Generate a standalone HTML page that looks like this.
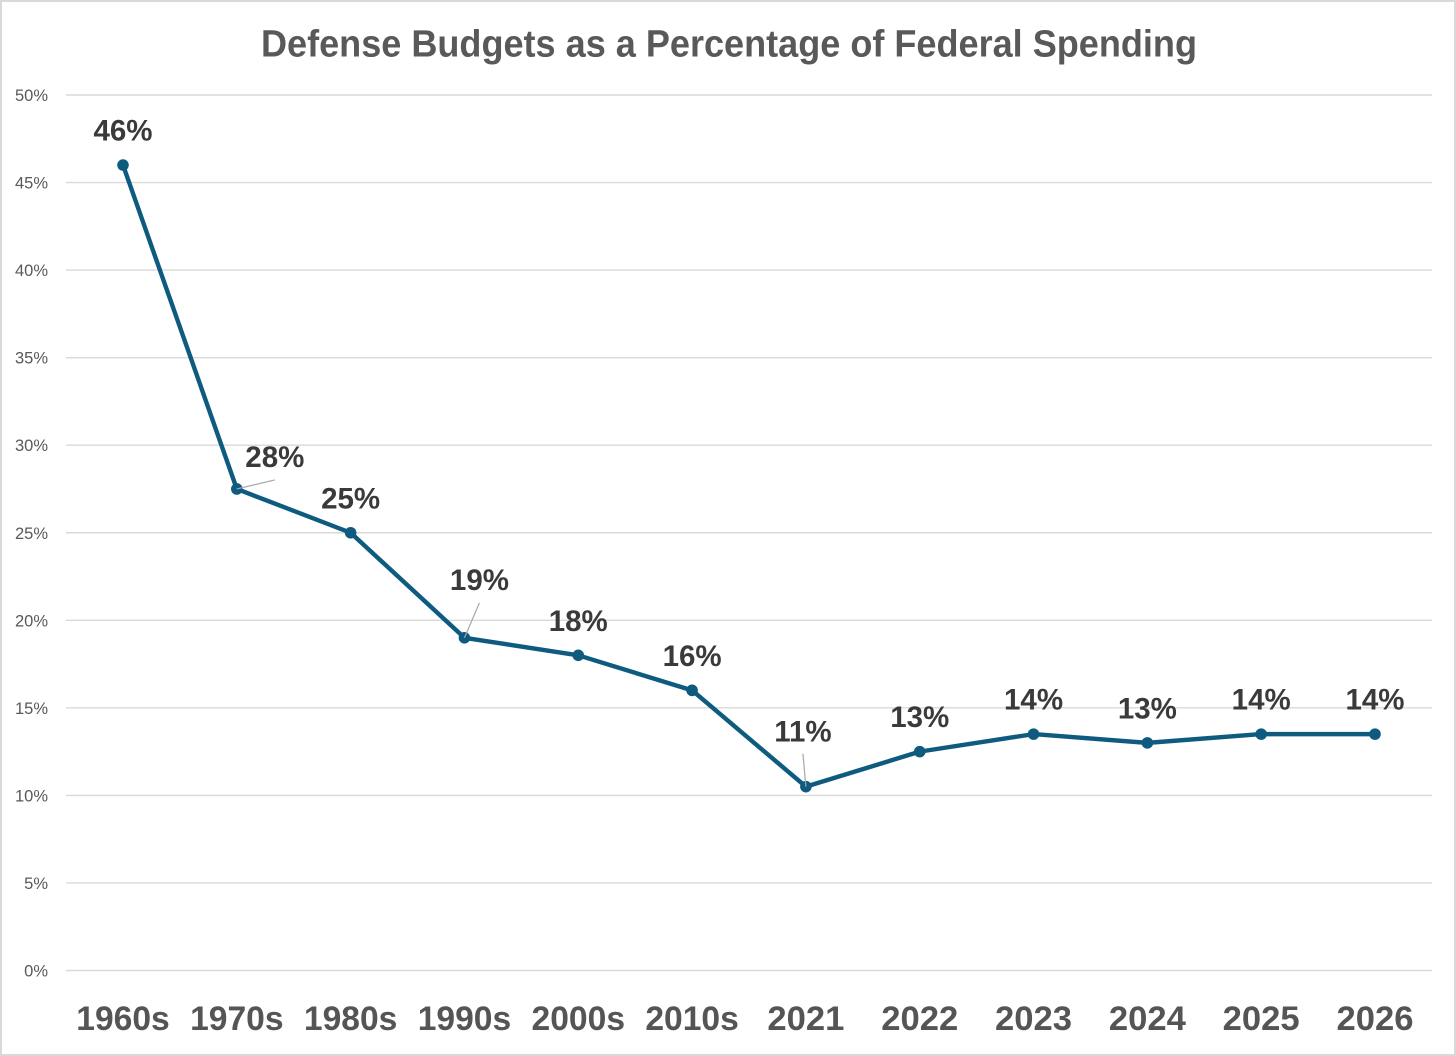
<!DOCTYPE html>
<html lang="en">
<head>
<meta charset="utf-8">
<title>Defense Budgets as a Percentage of Federal Spending</title>
<style>
html,body{margin:0;padding:0;background:#fff;width:1456px;height:1056px;overflow:hidden}
svg{display:block;font-family:"Liberation Sans",sans-serif}
</style>
</head>
<body>
<svg id="chart" width="1456" height="1056" viewBox="0 0 1456 1056" xmlns="http://www.w3.org/2000/svg">
  <rect x="1" y="1" width="1454" height="1054" fill="#fff" stroke="#d9d9d9" stroke-width="2"/>
  <text x="261" y="56.5" font-size="38" font-weight="700" fill="#595959" textLength="936" lengthAdjust="spacingAndGlyphs">Defense Budgets as a Percentage of Federal Spending</text>
  <g id="grid"></g>
  <g id="yticks"></g>
  <g id="xticks"></g>
  <g id="leaders"></g>
  <g id="series"></g>
  <g id="labels"></g>
</svg>
<script>
const categories = ["1960s","1970s","1980s","1990s","2000s","2010s","2021","2022","2023","2024","2025","2026"];
const defenseShare = [46,27.5,25,19,18,16,10.5,12.5,13.5,13,13.5,13.5];
const valueLabels = ["46%","28%","25%","19%","18%","16%","11%","13%","14%","13%","14%","14%"];
const yTickValues = [0,5,10,15,20,25,30,35,40,45,50];
const yTickLabels = ["0%","5%","10%","15%","20%","25%","30%","35%","40%","45%","50%"];

const NS = "http://www.w3.org/2000/svg";
const plotLeft = 66, plotRight = 1432, yZero = 970.5, yTop = 95, yMax = 50;
const firstX = 123, stepX = (1375 - 123) / (categories.length - 1);
function xScale(i){ return firstX + i * stepX; }
function yScale(v){ return yZero - (v / yMax) * (yZero - yTop); }
function make(tag, attrs, text){
  const el = document.createElementNS(NS, tag);
  for (const k in attrs) el.setAttribute(k, attrs[k]);
  if (text !== undefined) el.textContent = text;
  return el;
}
const gridG = document.getElementById("grid");
const yG = document.getElementById("yticks");
const xG = document.getElementById("xticks");
const leaderG = document.getElementById("leaders");
const seriesG = document.getElementById("series");
const labelG = document.getElementById("labels");

yTickValues.forEach(function(v, i){
  const y = yScale(v);
  const line = make("line", {x1:plotLeft, x2:plotRight, y1:y, y2:y, stroke:"#d9d9d9", "stroke-width":1.4});
  
  
  gridG.appendChild(line);
  const t = make("text", {x:48, y:y + 6, "text-anchor":"end", "font-size":16.5, fill:"#595959"}, yTickLabels[i]);
  
  
  yG.appendChild(t);
});

categories.forEach(function(c, i){
  const t = make("text", {x:xScale(i), y:1030, "text-anchor":"middle", "font-size":34, "font-weight":700, fill:"#555555", textLength:(c.length === 5 ? 93.5 : 77), lengthAdjust:"spacingAndGlyphs"}, c);
  
  
  xG.appendChild(t);
});

const path = make("polyline", {
  points: defenseShare.map(function(v, i){ return xScale(i) + "," + yScale(v); }).join(" "),
  fill:"none", stroke:"#0f5b80", "stroke-width":4.4, "stroke-linejoin":"round"
});


seriesG.appendChild(path);

defenseShare.forEach(function(v, i){
  const cx = xScale(i), cy = yScale(v);
  const dot = make("circle", {cx:cx, cy:cy, r:5.8, fill:"#0f5b80"});
  
  
  seriesG.appendChild(dot);
  let dx = 0, dy = -24.5;
  let leaderDx = null, leaderDy = null;
  if (valueLabels[i] === "28%" && i === 1) { dx = 38; dy = -22; leaderDx = 38; leaderDy = -9; }
  if (valueLabels[i] === "19%" && i === 3) { dx = 15; dy = -48; leaderDx = 15; leaderDy = -35; }
  if (valueLabels[i] === "11%" && i === 6) { dx = -3; dy = -45; leaderDx = -3; leaderDy = -33; }
  if (leaderDx !== null) {
    const l = make("line", {x1:cx, y1:cy, x2:cx + leaderDx, y2:cy + leaderDy, stroke:"#a6a6a6", "stroke-width":1.2});
    
    
    labelG.appendChild(l);
  }
  const t = make("text", {x:cx + dx, y:cy + dy, "text-anchor":"middle", "font-size":29.5, "font-weight":700, fill:"#3a3a3a"}, valueLabels[i]);
  
  
  labelG.appendChild(t);
});
</script>
</body>
</html>
